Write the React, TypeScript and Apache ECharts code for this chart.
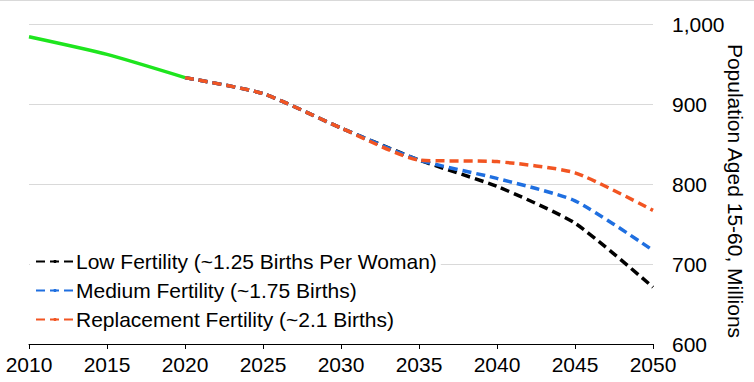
import React, { useEffect, useRef } from "react";
import * as echarts from "echarts";

const years = ["2010", "2015", "2020", "2025", "2030", "2035", "2040", "2045", "2050"];
const historical = [984, 962, 933, null, null, null, null, null, null];
const lowFertility = [null, null, 933, 913, 870, 830, 797, 751, 671];
const mediumFertility = [null, null, 933, 913, 870, 830, 807, 779, 717];
const replacementFertility = [null, null, 933, 913, 870, 830, 828, 814, 767];
const yTicks = [600, 700, 800, 900, 1000];

export default function App() {
  const ref = useRef<HTMLDivElement>(null);
  useEffect(() => {
    if (!ref.current) return;
    const chart = echarts.init(ref.current, null, { renderer: "svg" });
    const font = "'Liberation Sans', Arial, sans-serif";
    const dashed = (color: string) => ({ color, width: 3.5, type: [9, 5] as number[] });
    chart.setOption({
      animation: false,
      backgroundColor: "#fff",
      grid: { left: 29, right: 101, top: 24, bottom: 38 },
      xAxis: {
        type: "category",
        data: years,
        boundaryGap: false,
        axisLine: { lineStyle: { color: "#000", width: 1 } },
        axisTick: { show: true, length: 5, lineStyle: { color: "#000" } },
        axisLabel: { color: "#000", fontSize: 21, fontFamily: font, margin: 10 },
        splitLine: { show: false },
      },
      yAxis: {
        type: "value",
        position: "right",
        min: yTicks[0],
        max: yTicks[yTicks.length - 1],
        interval: 100,
        axisLine: { show: false },
        axisTick: { show: false },
        axisLabel: {
          color: "#000",
          fontSize: 21,
          fontFamily: font,
          margin: 19,
          formatter: (v: number) => v.toLocaleString("en-US"),
        },
        splitLine: { lineStyle: { color: "#d9d9d9", width: 1 } },
      },
      legend: {
        orient: "vertical",
        left: 30,
        top: 248,
        itemWidth: 38,
        itemHeight: 4,
        itemGap: 8,
        backgroundColor: "#fff",
        padding: [3, 4, 3, 5],
        textStyle: { color: "#000", fontSize: 21, fontFamily: font, padding: [0, 0, 0, -3] },
        data: [
          "Low Fertility (~1.25 Births Per Woman)",
          "Medium Fertility (~1.75 Births)",
          "Replacement Fertility (~2.1 Births)",
        ],
      },
      graphic: [
        {
          type: "line",
          shape: { x1: 0, y1: 0.5, x2: 754, y2: 0.5 },
          style: { stroke: "#d9d9d9", lineWidth: 1 },
        },
        {
          type: "text",
          x: 735,
          y: 191,
          rotation: -Math.PI / 2,
          style: {
            text: "Population Aged 15-60, Millions",
            fill: "#000",
            fontSize: 21,
            fontFamily: font,
            align: "center",
            verticalAlign: "middle",
          },
        },
      ],
      series: [
        {
          name: "Historical",
          type: "line",
          data: historical,
          symbol: "none",
          smooth: 0.2,
          lineStyle: { color: "#1ee51e", width: 3.5 },
          itemStyle: { color: "#1ee51e" },
          z: 5,
        },
        {
          name: "Low Fertility (~1.25 Births Per Woman)",
          type: "line",
          data: lowFertility,
          symbol: "none",
          smooth: 0.2,
          lineStyle: dashed("#000000"),
          itemStyle: { color: "#000000" },
          z: 2,
        },
        {
          name: "Medium Fertility (~1.75 Births)",
          type: "line",
          data: mediumFertility,
          symbol: "none",
          smooth: 0.2,
          lineStyle: dashed("#1f6fe0"),
          itemStyle: { color: "#1f6fe0" },
          z: 3,
        },
        {
          name: "Replacement Fertility (~2.1 Births)",
          type: "line",
          data: replacementFertility,
          symbol: "none",
          smooth: 0.2,
          lineStyle: dashed("#f25522"),
          itemStyle: { color: "#f25522" },
          z: 4,
        },
      ],
    });
    return () => chart.dispose();
  }, []);
  return <div ref={ref} style={{ width: 754, height: 382, position: "fixed", left: 0, top: 0 }} />;
}
